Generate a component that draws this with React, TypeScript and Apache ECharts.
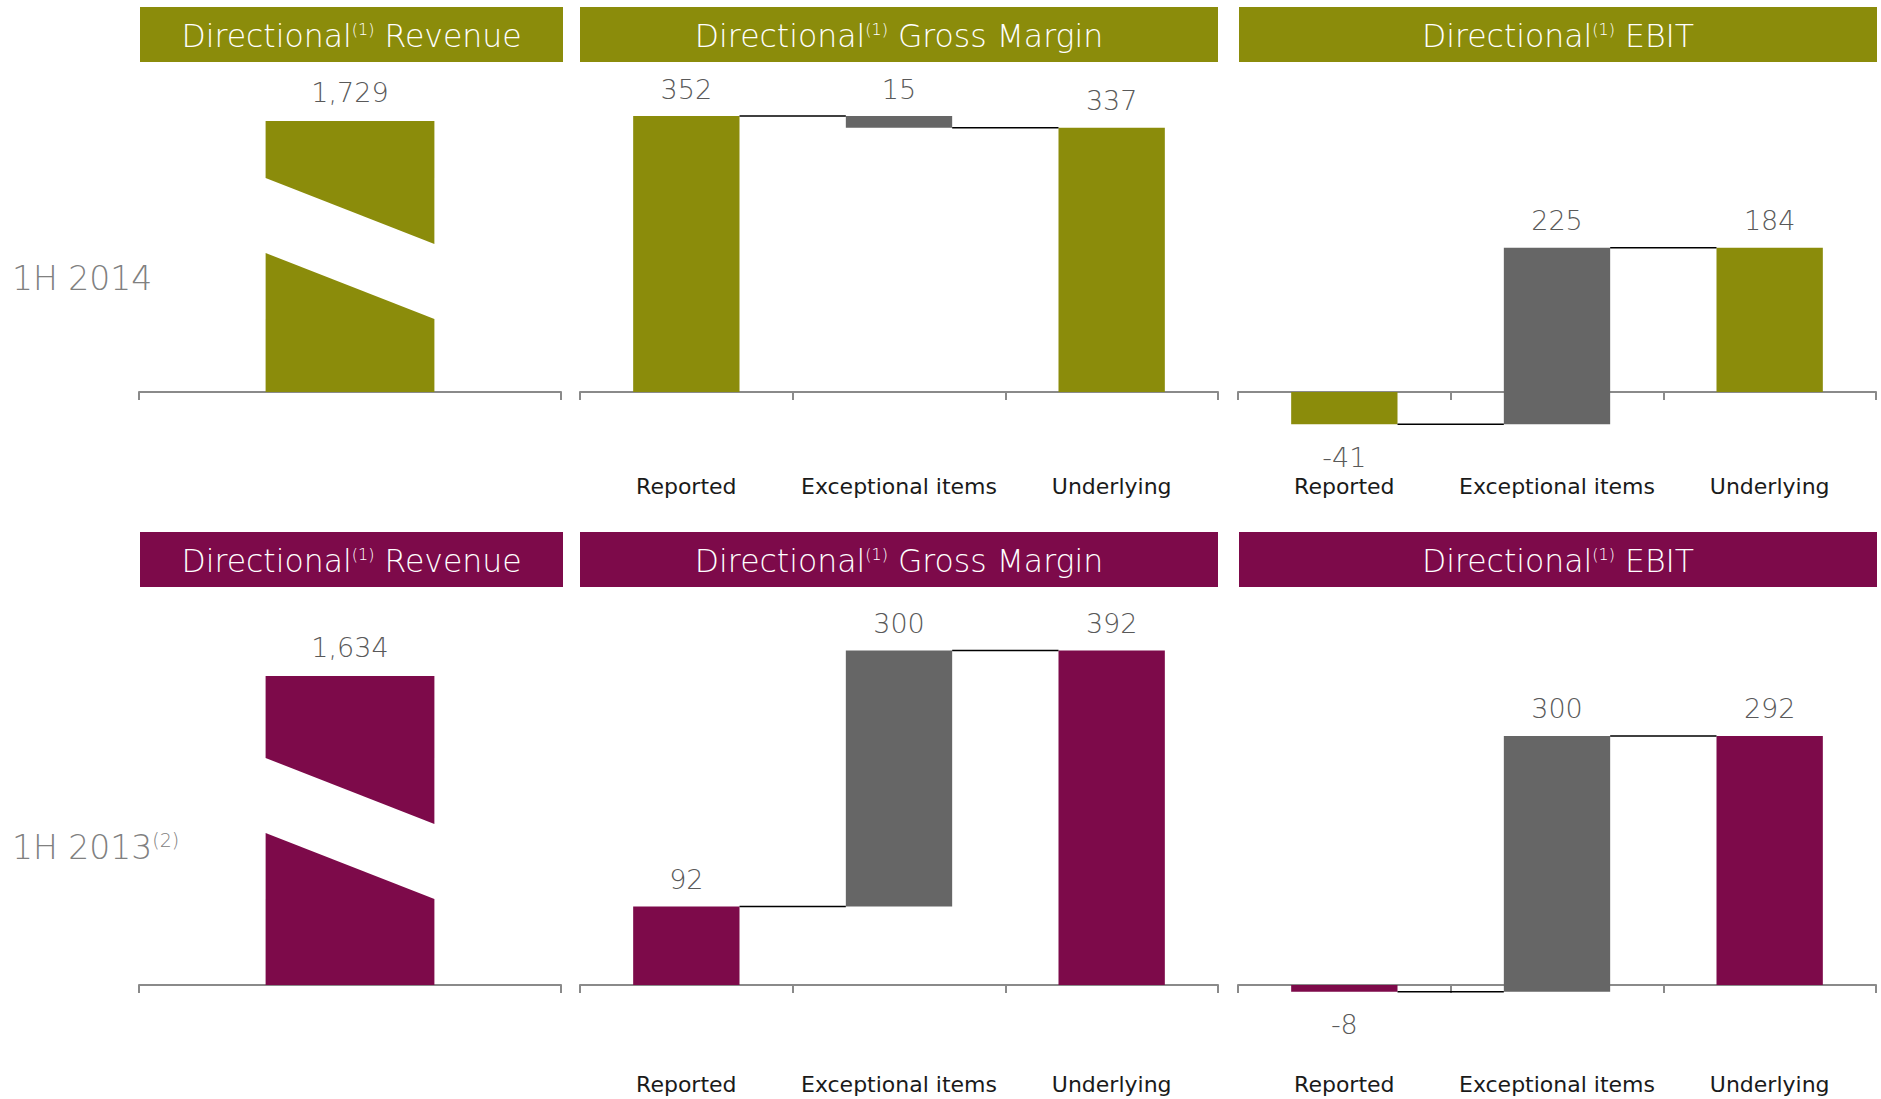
import React, { useEffect, useRef } from "react";
import * as echarts from "echarts";

// ---------- data ----------
const CATEGORIES = ["Reported", "Exceptional items", "Underlying"];
const ROW_LABELS = ["1H 2014", "1H 2013"];
const ROW_NOTES = ["", "(2)"];
const PANEL_TITLES = ["Revenue", "Gross Margin", "EBIT"];
const REVENUE = [1729, 1634];
// [reported, exceptional-items change, underlying]
const GROSS_MARGIN_2014 = [352, -15, 337];
const EBIT_2014 = [-41, 225, 184];
const GROSS_MARGIN_2013 = [92, 300, 392];
const EBIT_2013 = [-8, 300, 292];

// ---------- style ----------
const OLIVE = "#8B8C0B";
const MAROON = "#7D0A4A";
const GREY = "#666666";
const ROW_COLORS = [OLIVE, MAROON];
const FONT = "DejaVu Sans";
const AXIS_COLOR = "#8a8a8a";

function waterfall(vals: number[]) {
  const [rep, exc, und] = vals;
  return [
    [0, 0, rep, rep],
    [1, rep, rep + exc, exc],
    [2, 0, und, und],
  ];
}

function fmt(v: number) {
  return v.toLocaleString("en-US");
}

function waterfallRender(color: string) {
  return (params: any, api: any) => {
    const i = api.value(0);
    const s = api.value(1);
    const e = api.value(2);
    const v = api.value(3);
    const bw = api.size([1, 0])[0];
    const w = bw * 0.5;
    const cx = api.coord([i, 0])[0];
    const yTop = api.coord([i, Math.max(s, e)])[1];
    const yBot = api.coord([i, Math.min(s, e)])[1];
    const yEnd = api.coord([i, e])[1];
    const fill = i === 1 ? GREY : color;
    const below = i !== 1 && v < 0;
    const txt = i === 1 ? fmt(Math.abs(v)) : fmt(v);
    const children: any[] = [
      {
        type: "rect",
        shape: { x: cx - w / 2, y: yTop, width: w, height: Math.max(1, yBot - yTop) },
        style: { fill },
      },
      {
        type: "text",
        x: cx,
        y: below ? yBot + 33 : yTop - 27,
        style: {
          text: txt,
          fill: "#595959",
          fontSize: 27,
          fontWeight: 300,
          fontFamily: FONT,
          align: "center",
          verticalAlign: "middle",
        },
      },
    ];
    if (i < 2) {
      children.push({
        type: "line",
        shape: { x1: cx + w / 2, y1: yEnd, x2: cx + bw - w / 2, y2: yEnd },
        style: { stroke: "#000", lineWidth: 1.5 },
        z2: 5,
      });
    }
    return { type: "group", children };
  };
}

const BREAK_ABOVE_BASE = [73, 86];
const BREAK_SLOPE = 66;
const BREAK_GAP = 75;

function revenueRender(color: string, aboveBase: number) {
  return (params: any, api: any) => {
    const v = api.value(1);
    const bw = api.size([1, 0])[0];
    const w = bw * 0.4;
    const cx = api.coord([0, 0])[0];
    const yB = api.coord([0, 0])[1];
    const yT = api.coord([0, v])[1];
    const L = cx - w / 2;
    const R = cx + w / 2;
    return {
      type: "group",
      children: [
        {
          type: "polygon",
          shape: {
            points: [
              [L, yB - aboveBase - BREAK_SLOPE],
              [R, yB - aboveBase],
              [R, yB],
              [L, yB],
            ],
          },
          style: { fill: color },
        },
        {
          type: "polygon",
          shape: {
            points: [
              [L, yT],
              [R, yT],
              [R, yB - aboveBase - BREAK_GAP],
              [L, yB - aboveBase - BREAK_SLOPE - BREAK_GAP],
            ],
          },
          style: { fill: color },
        },
        {
          type: "text",
          x: cx,
          y: yT - 29,
          style: {
            text: fmt(v),
            fill: "#595959",
            fontSize: 27,
            fontWeight: 300,
            fontFamily: FONT,
            align: "center",
            verticalAlign: "middle",
          },
        },
      ],
    };
  };
}

// grid geometry per row (grid bottom = zero line)
const ROW_GEOM = [
  {
    rev: { left: 139, width: 422, top: 121, height: 271 },
    gm: { left: 580, width: 638, top: 78.4, height: 313.6 },
    ebit: { left: 1238, width: 638, top: 78.4, height: 313.6 },
    labelMargin: 83,
    band: { top: 7, height: 55 },
    rowLabelY: 278,
  },
  {
    rev: { left: 139, width: 422, top: 676, height: 309 },
    gm: { left: 580, width: 638, top: 643.8, height: 341.2 },
    ebit: { left: 1238, width: 638, top: 643.8, height: 341.2 },
    labelMargin: 88,
    band: { top: 532, height: 55 },
    rowLabelY: 847,
  },
];
const GM_EBIT_MAX = 400;
const BANDS_X = [
  { left: 140, right: 563 },
  { left: 580, right: 1218 },
  { left: 1239, right: 1877 },
];

function buildOption() {
  const grid: any[] = [];
  const xAxis: any[] = [];
  const yAxis: any[] = [];
  const series: any[] = [];
  const graphic: any[] = [];
  const wfData = [
    [GROSS_MARGIN_2014, EBIT_2014],
    [GROSS_MARGIN_2013, EBIT_2013],
  ];

  const axisCommon = {
    axisLine: { show: true, onZero: false, lineStyle: { color: AXIS_COLOR, width: 2 } },
    axisTick: { show: true, length: 8, lineStyle: { color: AXIS_COLOR, width: 2 } },
  };
  const gridCommon = { containLabel: false, outerBoundsMode: "none" };

  ROW_GEOM.forEach((g, r) => {
    const color = ROW_COLORS[r];
    // revenue
    let gi = grid.length;
    grid.push({ ...g.rev, ...gridCommon });
    xAxis.push({
      gridIndex: gi,
      type: "category",
      data: [""],
      ...axisCommon,
      axisLabel: { show: false },
    });
    yAxis.push({ gridIndex: gi, type: "value", min: 0, max: REVENUE[r], show: false });
    series.push({
      type: "custom",
      xAxisIndex: gi,
      yAxisIndex: gi,
      renderItem: revenueRender(color, BREAK_ABOVE_BASE[r]),
      data: [[0, REVENUE[r]]],
      clip: false,
      silent: true,
    });
    // gm & ebit
    [g.gm, g.ebit].forEach((geom, k) => {
      gi = grid.length;
      grid.push({ ...geom, ...gridCommon });
      xAxis.push({
        gridIndex: gi,
        type: "category",
        data: CATEGORIES,
        ...axisCommon,
        axisLabel: {
          margin: g.labelMargin,
          fontSize: 22,
          color: "#1a1a1a",
          fontFamily: FONT,
          interval: 0,
        },
      });
      yAxis.push({ gridIndex: gi, type: "value", min: 0, max: GM_EBIT_MAX, show: false });
      series.push({
        type: "custom",
        xAxisIndex: gi,
        yAxisIndex: gi,
        renderItem: waterfallRender(color),
        data: waterfall(wfData[r][k]),
        clip: false,
        silent: true,
      });
    });

    // title bands
    BANDS_X.forEach((b, k) => {
      graphic.push({
        type: "rect",
        shape: { x: b.left, y: g.band.top, width: b.right - b.left, height: g.band.height },
        style: { fill: color },
        silent: true,
      });
      graphic.push({
        type: "text",
        x: (b.left + b.right) / 2,
        y: g.band.top + g.band.height / 2 + 1,
        style: {
          text: "Directional{sup|(1)} " + PANEL_TITLES[k],
          fill: "#ffffff",
          fontSize: 31.5,
          fontWeight: 300,
          fontFamily: FONT,
          lineHeight: 38,
          align: "center",
          verticalAlign: "middle",
          rich: {
            sup: {
              fontSize: 16,
              fontWeight: 300,
              padding: [5, 0, 0, 0],
              verticalAlign: "top",
              fill: "#ffffff",
              fontFamily: FONT,
            },
          },
        },
        silent: true,
      });
    });

    // row label
    graphic.push({
      type: "text",
      x: 12,
      y: g.rowLabelY,
      style: {
        text: ROW_LABELS[r] + (ROW_NOTES[r] ? "{sup|" + ROW_NOTES[r] + "}" : ""),
        fill: "#808080",
        fontSize: 33,
        fontWeight: 300,
        fontFamily: FONT,
        lineHeight: 40,
        align: "left",
        verticalAlign: "middle",
        rich: {
          sup: {
            fontSize: 19,
            fontWeight: 300,
            padding: [3, 0, 0, 0],
            verticalAlign: "top",
            fill: "#808080",
            fontFamily: FONT,
          },
        },
      },
      silent: true,
    });
  });

  return {
    animation: false,
    backgroundColor: "#ffffff",
    textStyle: { fontFamily: FONT },
    grid,
    xAxis,
    yAxis,
    series,
    graphic,
  };
}

export default function App() {
  const ref = useRef<HTMLDivElement>(null);
  useEffect(() => {
    if (!ref.current) return;
    const chart = echarts.init(ref.current, undefined, { renderer: "svg" });
    chart.setOption(buildOption() as any);
    return () => chart.dispose();
  }, []);
  return (
    <div
      ref={ref}
      style={{ position: "fixed", left: 0, top: 0, width: 1881, height: 1099, background: "#fff" }}
    />
  );
}
